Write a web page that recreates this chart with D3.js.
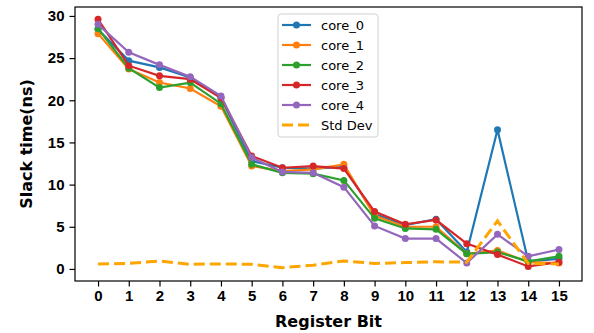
<!DOCTYPE html>
<html>
<head>
<meta charset="utf-8">
<script src="https://cdn.jsdelivr.net/npm/d3@7"></script>
<style>
  body { margin: 0; background: #fff; }
  svg { font-family: "DejaVu Sans", sans-serif; }
</style>
</head>
<body>
<svg id="chart" width="594" height="333"></svg>
<script>
const bits = [0, 1, 2, 3, 4, 5, 6, 7, 8, 9, 10, 11, 12, 13, 14, 15];
const core0 = [28.4, 24.7, 23.9, 22.7, 20.3, 12.8, 12.0, 11.9, 12.1, 6.5, 5.2, 5.9, 2.0, 16.5, 0.9, 1.2];
const core1 = [27.9, 23.7, 22.1, 21.4, 19.3, 12.2, 11.6, 11.8, 12.4, 6.3, 5.0, 5.0, 1.8, 2.2, 0.8, 0.7];
const core2 = [28.5, 23.8, 21.5, 22.1, 19.6, 12.4, 11.4, 11.3, 10.5, 6.0, 4.8, 4.7, 1.8, 2.0, 0.9, 1.5];
const core3 = [29.6, 24.1, 22.9, 22.5, 20.3, 13.4, 12.0, 12.2, 11.9, 6.8, 5.3, 5.8, 3.0, 1.7, 0.3, 0.8];
const core4 = [29.0, 25.7, 24.2, 22.8, 20.5, 13.2, 11.5, 11.4, 9.7, 5.1, 3.6, 3.6, 0.7, 4.1, 1.5, 2.3];
const stdDev = [0.6, 0.65, 0.95, 0.55, 0.6, 0.55, 0.15, 0.45, 0.95, 0.65, 0.75, 0.85, 0.8, 5.7, 0.65, 0.6];
const yTicks = [0, 5, 10, 15, 20, 25, 30];

const series = [
  { name: "core_0", values: core0, color: "#1f77b4" },
  { name: "core_1", values: core1, color: "#ff7f0e" },
  { name: "core_2", values: core2, color: "#2ca02c" },
  { name: "core_3", values: core3, color: "#d62728" },
  { name: "core_4", values: core4, color: "#9467bd" }
];

const svg = d3.select("#chart");
const mLeft = 75, mRight = 582, mTop = 7, mBottom = 281;

const x = d3.scaleLinear().domain([-0.75, 15.75]).range([mLeft, mRight]);
const y = d3.scaleLinear().domain([-1.43, 31.06]).range([mBottom, mTop]);

// axes
const xAxis = svg.append("g")
  .attr("transform", `translate(0,${mBottom})`)
  .call(d3.axisBottom(x).tickValues(bits).tickFormat(d3.format("d")).tickSize(5.5).tickPadding(4));
const yAxis = svg.append("g")
  .attr("transform", `translate(${mLeft},0)`)
  .call(d3.axisLeft(y).tickValues(yTicks).tickSize(5.5).tickPadding(5));

[xAxis, yAxis].forEach(g => {
  g.select(".domain").remove();
  g.selectAll("line").attr("stroke", "#000").attr("stroke-width", 1.2);
  g.selectAll("text").attr("fill", "#000").style("font-size", "15px").style("font-weight", "bold");
});

// frame
svg.append("rect")
  .attr("x", mLeft).attr("y", mTop)
  .attr("width", mRight - mLeft).attr("height", mBottom - mTop)
  .attr("fill", "none").attr("stroke", "#000").attr("stroke-width", 1.2);

const line = d3.line().x((d, i) => x(bits[i])).y(d => y(d));

series.forEach(s => {
  svg.append("path")
    .attr("d", line(s.values))
    .attr("fill", "none")
    .attr("stroke", s.color)
    .attr("stroke-width", 2.2);
  svg.append("g").selectAll("circle")
    .data(s.values)
    .enter()
    .append("circle")
    .attr("cx", (d, i) => x(bits[i]))
    .attr("cy", d => y(d))
    .attr("r", 3.5)
    .attr("fill", s.color);
});

svg.append("path")
  .attr("d", line(stdDev))
  .attr("fill", "none")
  .attr("stroke", "orange")
  .attr("stroke-width", 3)
  .attr("stroke-dasharray", "11,5");

// labels
svg.append("text")
  .attr("x", (mLeft + mRight) / 2).attr("y", 327)
  .attr("text-anchor", "middle")
  .style("font-size", "16px").style("font-weight", "bold")
  .text("Register Bit");
svg.append("text")
  .attr("transform", `translate(32,${(mTop + mBottom) / 2}) rotate(-90)`)
  .attr("text-anchor", "middle")
  .style("font-size", "16px").style("font-weight", "bold")
  .text("Slack time(ns)");

// legend
const lg = svg.append("g").attr("transform", "translate(278,14)");
lg.append("rect")
  .attr("width", 100).attr("height", 123).attr("rx", 3)
  .attr("fill", "#fff").attr("fill-opacity", 0.8)
  .attr("stroke", "#d0d0d0");
const entries = series.concat([{ name: "Std Dev", color: "orange", dashed: true }]);
entries.forEach((e, i) => {
  const cy = 11 + i * 20;
  lg.append("line")
    .attr("x1", 4).attr("x2", 33).attr("y1", cy).attr("y2", cy)
    .attr("stroke", e.color)
    .attr("stroke-width", e.dashed ? 3 : 2.2)
    .attr("stroke-dasharray", e.dashed ? "11,5" : null);
  if (!e.dashed) {
    lg.append("circle").attr("cx", 18.5).attr("cy", cy).attr("r", 3.5).attr("fill", e.color);
  }
  lg.append("text")
    .attr("x", 43).attr("y", cy + 4.5)
    .style("font-size", "13px")
    .text(e.name);
});
</script>
</body>
</html>
